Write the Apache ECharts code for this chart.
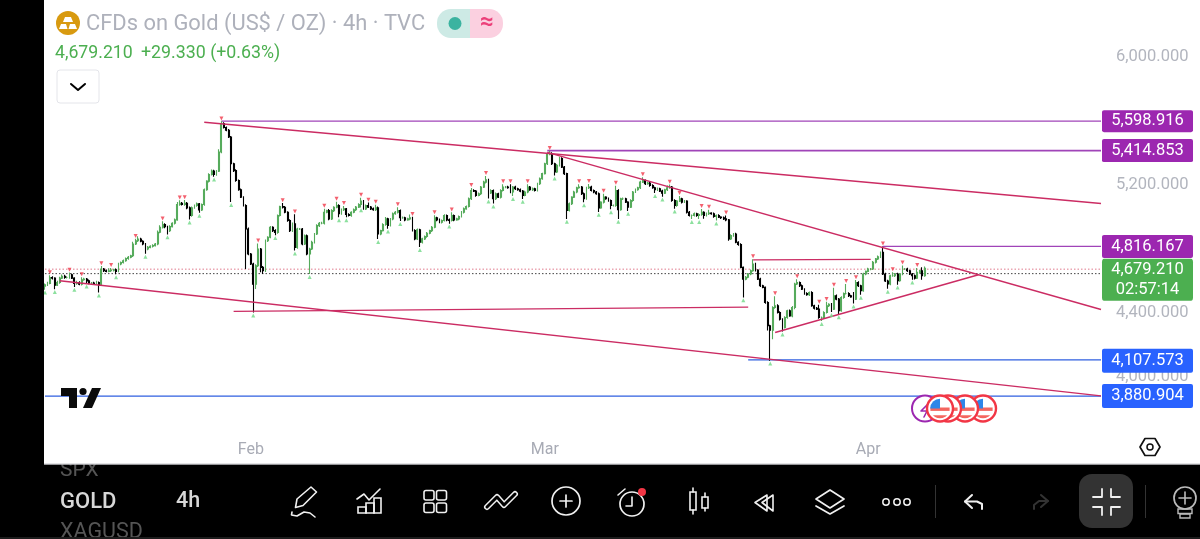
<!DOCTYPE html>
<html><head><meta charset="utf-8">
<style>html,body{margin:0;padding:0;background:#fff;overflow:hidden}#c{width:1200px;height:539px}</style>
<script src="https://cdn.jsdelivr.net/npm/echarts@6/dist/echarts.min.js"></script>
</head><body><div id="c"></div>
<script>
const closes=[
4576,4585,4622,4618,4574,4591,4618,4629,4622,4622,4639,4618,4585,4591,4580,4608,4612,4601,4587,4587,4585,4591,4576,4675,4664,4660,4664,4668,4670,4660,
4706,4716,4727,4741,4748,4758,4831,4852,4862,4848,4831,4800,4810,4817,4821,4831,4905,4936,4953,4940,4915,4940,4961,4982,5078,5086,5078,5086,5057,5009,
5057,5072,5082,5044,5078,5170,5224,5266,5287,5266,5287,5406,5584,5559,5542,5500,5333,5290,5228,5170,5124,5072,4925,4769,4706,4580,4695,4800,4685,4664,
4852,4873,4936,4915,4904,5009,5065,5061,5030,4978,4915,4957,4810,4925,4925,4831,4883,4769,4800,4842,4894,4946,4961,4961,5030,5040,4988,5040,5061,5072,
5020,5045,5051,5016,5009,5030,5045,5062,5078,5099,5051,5072,5062,5051,5045,5057,4894,4915,4953,4988,4947,4988,5020,5030,5041,4995,4995,4982,4988,4995,
4915,4863,4920,4842,4863,4878,4898,4915,4936,4995,4982,4967,4978,5009,4982,4978,5009,4982,4988,5003,5030,5051,5066,5114,5166,5162,5135,5145,5187,5218,
5233,5150,5166,5114,5145,5124,5166,5187,5187,5183,5156,5187,5177,5170,5162,5135,5156,5187,5170,5177,5166,5208,5239,5271,5333,5392,5396,5333,5281,5323,
5365,5312,5271,5041,5083,5124,5156,5183,5187,5145,5114,5183,5187,5166,5156,5145,5057,5093,5124,5114,5103,5072,5072,5166,5045,5114,5114,5093,5062,5103,
5156,5170,5183,5218,5229,5208,5212,5197,5183,5170,5177,5162,5149,5170,5183,5187,5103,5072,5099,5114,5093,5099,5030,5009,5009,5020,5009,5016,5030,5009,
5020,5024,5020,5003,5009,4999,4995,4988,4982,4863,4884,4894,4842,4828,4685,4612,4623,4644,4664,4706,4668,4612,4570,4560,4466,4320,4292,4434,4445,4403,
4361,4309,4372,4414,4382,4434,4581,4591,4570,4549,4522,4514,4528,4445,4430,4424,4372,4372,4403,4445,4455,4424,4508,4487,4414,4497,4522,4522,4508,4501,
4487,4591,4570,4539,4644,4660,4675,4675,4717,4738,4752,4779,4644,4600,4581,4633,4633,4644,4602,4644,4675,4675,4664,4644,4633,4618,4654,4664,4633,4679.21];
const wickUp=[
8,10,14,8,6,10,8,12,10,8,14,8,6,10,8,16,8,6,8,6,8,10,6,18,6,8,16,14,6,8,
8,6,8,6,8,6,14,12,18,8,6,6,8,6,8,6,10,12,20,8,6,8,6,8,16,18,8,20,8,8,
8,6,8,6,6,8,6,8,10,8,6,18,14,8,6,8,6,6,8,6,8,6,8,10,6,8,10,35,6,8,
8,6,8,6,8,6,6,22,8,6,8,8,60,8,6,6,8,8,8,10,6,8,8,10,22,6,10,8,6,24,
8,8,18,6,8,6,8,6,8,22,8,6,18,6,8,20,8,6,8,12,8,6,8,8,20,6,8,6,8,20,
6,8,8,6,8,6,8,6,8,16,6,8,6,8,6,8,20,6,8,6,8,8,6,8,16,8,6,8,6,8,
24,6,8,6,8,6,8,18,6,8,22,6,8,6,8,6,8,18,6,8,6,6,8,6,6,10,18,8,6,8,
12,8,6,6,8,6,8,6,18,6,8,6,20,8,6,6,8,6,22,6,8,6,6,30,8,6,8,6,6,8,
6,8,6,8,20,6,8,6,8,6,8,6,8,6,14,16,6,8,8,18,6,8,6,8,6,8,6,8,20,6,
8,22,6,8,6,8,6,8,22,6,8,6,8,6,8,6,8,6,8,30,8,6,8,6,6,8,6,8,60,10,
8,6,8,6,8,10,8,20,6,8,6,8,6,8,6,8,28,6,8,25,6,8,50,8,6,8,6,60,8,6,
30,15,8,6,8,6,8,6,8,6,8,6,37,8,8,6,22,6,8,6,22,6,8,6,6,8,28,6,22,12];
const wickDn=[
22,8,6,8,25,6,8,6,8,6,8,6,22,8,6,8,6,18,8,6,8,6,48,6,8,6,6,8,8,18,
6,8,6,6,8,6,8,6,8,6,8,30,8,6,8,6,8,6,8,10,24,8,6,8,6,8,6,8,8,25,
8,6,8,18,6,8,6,8,6,14,8,6,8,6,6,6,240,8,8,6,6,6,250,8,6,177,30,8,30,20,
8,8,6,8,18,8,6,8,6,8,8,8,20,8,6,8,6,8,126,6,8,6,8,6,8,6,8,6,8,6,
22,6,8,18,6,8,6,8,6,18,6,8,6,8,6,8,32,8,6,8,20,6,8,6,8,20,6,8,6,8,
6,8,6,30,8,6,8,6,8,6,8,6,8,6,8,20,6,8,6,8,6,8,6,6,8,6,8,6,8,6,
8,35,6,30,8,6,8,6,8,6,8,25,8,6,8,22,6,8,6,8,6,6,8,6,6,8,6,8,22,6,
8,6,8,53,6,8,6,8,6,8,22,6,8,6,8,6,25,6,8,6,8,24,6,8,57,6,8,6,24,6,
8,6,6,8,6,8,6,8,6,20,8,6,22,6,8,6,8,20,8,6,8,6,8,6,22,6,8,22,8,20,
6,8,6,8,25,6,8,6,8,12,6,8,6,8,6,115,8,6,8,6,8,6,8,6,8,30,190,56,8,6,
8,25,6,8,6,8,10,6,8,6,8,6,8,6,8,6,8,22,8,6,8,18,6,8,22,6,8,6,8,6,
28,6,8,25,6,8,6,8,6,8,6,8,6,6,30,8,6,8,25,6,8,6,8,6,25,8,6,8,25,6];
const fractalHigh=[2,10,15,23,27,37,48,55,57,72,87,97,102,114,119,122,129,132,135,144,150,159,166,174,180,187,190,197,206,218,222,228,233,244,255,259,268,271,278,289,298,307,316,319,322,327,331,342,346,350,356];
const fractalLow=[0,4,12,17,22,29,41,50,59,63,69,76,85,94,102,108,120,123,129,136,140,145,153,165,181,183,191,195,208,213,220,226,231,234,238,249,252,257,264,267,274,285,296,301,317,321,324,330,333,344,348,354];
const monthTicks={84:'Feb',204:'Mar',336:'Apr'};
const tickLabels=[6000,5200,4400,4000];
const slotCount=432;
const lineB=[[65,5592],[431,5084]];
const lineC=[[205,5404],[431,4422]];
const lineD=[[6,4602],[431,3882]];
const lineE=[[77,4410],[287,4437]];
const lineF=[[289,4732],[337,4735]];
const lineG=[[298,4278],[381,4639]];
const level5598=[[72,5598.916],[431,5598.916]];
const level5414=[[205,5414.853],[431,5414.853]];
const level4816=[[342,4816.167],[431,4816.167]];
const level4107=[[287,4107.573],[431,4107.573]];
const level3880=[[0,3880.904],[431,3880.904]];
const dotRed=[[0,4674],[431,4674]];
const dotDark=[[0,4646],[431,4646]];
const lastPrice=4679.21;

const categories=Array.from({length:slotCount},(_,i)=>monthTicks[i]||'');
const highs=[],lows=[],ohlc=[];
closes.forEach((c,i)=>{const o=i?closes[i-1]:c-8;const h=Math.max(o,c)+wickUp[i];const l=Math.min(o,c)-wickDn[i];highs.push(h);lows.push(l);ohlc.push([o,c,l,h]);});
const fmt=v=>v.toLocaleString('en-US',{minimumFractionDigits:3,maximumFractionDigits:3});
const CRIM='#cb2c63',PUR='#9c27b0',BLUE='#2962ff',GREEN='#4caf50';
const TAGPATH='path://M2 0H89Q91 0 91 2V22Q91 24 89 24H2Q0 24 0 22V2Q0 0 2 0Z';
const trend=(d,color,w,type,z)=>({type:'line',data:d,symbol:'none',silent:true,animation:false,z:z||3,lineStyle:{color:color,width:w,type:type||'solid'}});
const tag=(price,color,offY,h,label)=>({type:'scatter',clip:false,silent:true,animation:false,z:8,data:[[431,price]],symbol:TAGPATH,symbolKeepAspect:false,symbolSize:[91,h],symbolOffset:[46.5,offY],itemStyle:{color:color,opacity:1},label:{show:true,position:'inside',formatter:label||fmt(price),color:'#fff',fontFamily:'Roboto',fontSize:16.5,lineHeight:20}});

// ---- page chrome primitives
const G=[];const Z=100;
const rect=(x,y,w,h,fill,r,z,stroke,lw)=>G.push({type:'rect',z:z||Z,silent:true,shape:{x,y,width:w,height:h,r:r||0},style:{fill:fill||'none',stroke:stroke||null,lineWidth:lw||1}});
const txt=(x,y,t,font,fill,align,z)=>G.push({type:'text',z:z||Z,silent:true,x,y,style:{text:t,font,fill,textAlign:align||'left',textVerticalAlign:'middle'}});
const pl=(pts,stroke,lw,z)=>G.push({type:'polyline',z:z||Z,silent:true,shape:{points:pts},style:{stroke,lineWidth:lw||1.6,fill:null,lineJoin:'round',lineCap:'round'}});
const pg=(pts,fill,z,stroke,lw)=>G.push({type:'polygon',z:z||Z,silent:true,shape:{points:pts},style:{fill:fill||'none',stroke:stroke||null,lineWidth:lw||1.6,lineJoin:'round'}});
const ci=(cx,cy,r,fill,z,stroke,lw)=>G.push({type:'circle',z:z||Z,silent:true,shape:{cx,cy,r},style:{fill:fill||'none',stroke:stroke||null,lineWidth:lw||1.6}});
const W='#f0f0f0';
// frame
rect(0,0,44,539,'#000');
rect(44,464,1156,75,'#000');
txt(60,470.5,'SPX','21px Roboto','#555',null,101);
rect(44,457,90,7,'#fff',0,102);
rect(44,463.5,1156,1.2,'#c8c8cc',0,103);
txt(60,502,'GOLD','500 22px Roboto','#d8d8d8',null,101);
txt(176,502,'4h','500 21.5px Roboto','#d8d8d8',null,101);
txt(60,533,'XAGUSD','21.5px Roboto','#555',null,101);
rect(0,537,1200,2,'#1c1c1c',0,102);
// header
ci(68,23,12,'#d89a10');
pg([[65,17],[71,17],[73,22],[63,22]],'#fff',101);
pg([[61,24],[66,24],[67.5,29],[59,29]],'#fff',101);
pg([[70,24],[75,24],[77,29],[68.5,29]],'#fff',101);
txt(86,24.5,'CFDs on Gold (US$ / OZ) · 4h · TVC','21.9px Roboto','#aeb1bb');
txt(55,53.5,'4,679.210','17.7px Roboto','#4caf50');
txt(141,53.5,'+29.330 (+0.63%)','17.8px Roboto','#4caf50');
rect(437,9,33,29,'#cdeae5',[14,0,0,14]);
rect(470,9,33,29,'#fbd0e0',[0,14,14,0]);
ci(455,23.5,6.5,'#3bb3a0');
txt(487,23,'≈','700 24px Roboto','#ec407a','center');
rect(57,70,42,33,'#fff',3,100,'#e4e5ea',1);
pl([[71,84],[78,90],[85,84]],'#000',2);
// TV logo
pg([[61,388],[77,388],[77,408],[69,408],[69,396],[61,396]],'#0b0b0b',20);
ci(83,391.5,3.6,'#0b0b0b',20);
pg([[92,388],[101,388],[92,408],[83,408]],'#0b0b0b',20);
// event icons
ci(925,408.5,13,'#fff',20,'#9c27b0',2);
pl([[931,401],[921,411],[927,411],[924,417]],'#9c27b0',1.6,20);
[983,965,948,940].forEach((cx,k)=>{const z=21+k*2,cy=408.5;
 ci(cx,cy,13,'#fff',z,'#f23645',2.4);
 pg([0.75,1.0,1.3,1.57,1.85,2.1,2.39].map(a=>[cx+9.8*Math.cos(a),cy+9.8*Math.sin(a)]),'#f4665f',z);
 rect(cx-9.6,cy-1,19.2,3.4,'#f4665f',0,z);
 G.push({type:'sector',z:z+1,silent:true,shape:{cx,cy,r:9.8,r0:0,startAngle:Math.PI,endAngle:Math.PI*1.5},style:{fill:'#2e86e8'}});
});
// settings hex
pg([[1140,447],[1145,438.5],[1155,438.5],[1160,447],[1155,455.5],[1145,455.5]],'none',20,'#111',1.7);
ci(1150,447,3,'none',20,'#111',1.5);
// toolbar icons
pg([[295.5,507.5],[297,499],[311,487],[316.5,492],[303,505.5]],'none',101,W,1.6);
pl([[292,512],[291.5,515],[297,516],[304,512],[310,513],[315,517]],W,1.6,101);
pl([[357,499],[364,494],[369,500],[380,489]],W,1.6,101);
rect(358,507,8,6,'none',0,101,W,1.6);rect(366,503,8,10,'none',0,101,W,1.6);rect(374,498,7,15,'none',0,101,W,1.6);
[[424,490.5],[436.5,490.5],[424,503],[436.5,503]].forEach(p=>rect(p[0],p[1],10,9.5,'none',2,101,W,1.6));
pl([[487,507],[497,497],[504,505],[515,494]],W,6,101);
pl([[487,507],[497,497],[504,505],[515,494]],'#000',3,102);
ci(566,501,14,'none',101,W,1.7);
pl([[560,501],[572,501]],W,1.7,101);pl([[566,495],[566,507]],W,1.7,101);
ci(632,504,12,'none',101,W,1.7);
pl([[632,497],[632,506],[626,506]],W,1.6,101);
pl([[618,495],[625,489]],W,1.6,101);
ci(642,492,4,'#f23645',103);
rect(690,492,6,18,'none',0,101,W,1.6);pl([[693,488],[693,492]],W,1.6,101);pl([[693,510],[693,514]],W,1.6,101);
rect(702,497,6,11,'none',0,101,W,1.6);pl([[705,493],[705,497]],W,1.6,101);pl([[705,508],[705,511]],W,1.6,101);
pg([[767,495],[755,502.5],[767,511]],'none',101,W,1.6);
pg([[773,495],[762,502.5],[773,511]],'none',101,W,1.6);
pg([[830,490],[844,499],[830,508],[816,499]],'none',101,W,1.7);
pl([[816,506],[830,514],[844,506]],W,1.7,101);
[886,897,907].forEach(x=>ci(x,502,3.2,'none',101,W,1.5));
rect(935,485,1,33,'#333',0,101);
pl([[972,495],[965,501.5],[972,508]],W,2,101);
pl([[965,501.5],[977,501.5],[982,504],[982,509]],W,2,101);
pl([[1041,495],[1048,501],[1041,507]],'#333',2,101);
pl([[1048,501],[1039,501],[1034,505],[1034,509]],'#333',2,101);
rect(1079,474,54,54,'#333',13,101);
[[[1093,497],[1102,497],[1102,489]],[[1111,489],[1111,497],[1120,497]],[[1093,507],[1102,507],[1102,515]],[[1111,515],[1111,507],[1120,507]]].forEach(p=>pl(p,W,1.8,102));
rect(1145,485,1,33,'#333',0,101);
ci(1185,498,11,'none',101,'#bbb',1.7);
pl([[1179,498],[1191,498]],'#bbb',1.6,101);pl([[1185,492],[1185,504]],'#bbb',1.6,101);
rect(1178,509,14,4.5,'none',0,101,'#bbb',1.4);rect(1180,514,10,4,'none',0,101,'#bbb',1.4);

const chart=echarts.init(document.getElementById('c'),null,{renderer:'canvas'});
chart.setOption({
 animation:false,backgroundColor:'#fff',
 grid:{left:45,right:99,top:25,bottom:98,containLabel:false},
 graphic:G,
 xAxis:{type:'category',data:categories,boundaryGap:false,axisLine:{show:false},axisTick:{show:false},splitLine:{show:false},
  axisLabel:{interval:0,margin:1,color:'#a8abb5',fontFamily:'Roboto',fontSize:16,hideOverlap:false}},
 yAxis:{type:'value',position:'right',min:3600,max:6200,interval:400,scale:true,axisLine:{show:false},axisTick:{show:false},splitLine:{show:false},
  axisLabel:{margin:15,padding:[3,0,0,0],color:'#b2b5be',fontFamily:'Roboto',fontSize:16.5,showMinLabel:true,showMaxLabel:true,formatter:v=>tickLabels.includes(v)?fmt(v):''}},
 series:[
  trend(dotRed,'#e07a8c',1,[1.5,2]),
  trend(dotDark,'#444',1,[1.5,2]),
  trend(level3880,'#2f5fe0',1.2),
  trend(level4107,'#2f5fe0',1.2),
  trend(level4816,'#a044b8',1.4),
  trend(level5414,'#a044b8',1.9),
  trend(level5598,'#a044b8',1.4),
  {type:'candlestick',data:ohlc,barWidth:1.4,silent:true,animation:false,z:4,itemStyle:{color:'#56ab5c',color0:'#000',borderColor:'#56ab5c',borderColor0:'#000',borderWidth:1.1}},
  trend(lineB,CRIM,1.4,null,5),trend(lineC,CRIM,1.4,null,5),trend(lineD,CRIM,1.4,null,5),
  trend(lineE,CRIM,1.4,null,5),trend(lineF,CRIM,1.4,null,5),trend(lineG,CRIM,1.4,null,5),
  {type:'scatter',silent:true,animation:false,z:6,symbol:'triangle',symbolRotate:180,symbolSize:4,itemStyle:{color:'#f0384a'},data:fractalHigh.map(i=>[i,highs[i]+18])},
  {type:'scatter',silent:true,animation:false,z:6,symbol:'triangle',symbolSize:4,itemStyle:{color:'#6fd886'},data:fractalLow.map(i=>[i,lows[i]-18])},
  tag(5598.916,PUR,0,22),
  tag(5414.853,PUR,0,23),
  tag(4816.167,PUR,0,23),
  tag(lastPrice,GREEN,11.5,42,fmt(lastPrice)+'\n02:57:14'),
  tag(4107.573,BLUE,1,24),
  tag(3880.904,BLUE,0,24)
 ]
});
</script></body></html>
